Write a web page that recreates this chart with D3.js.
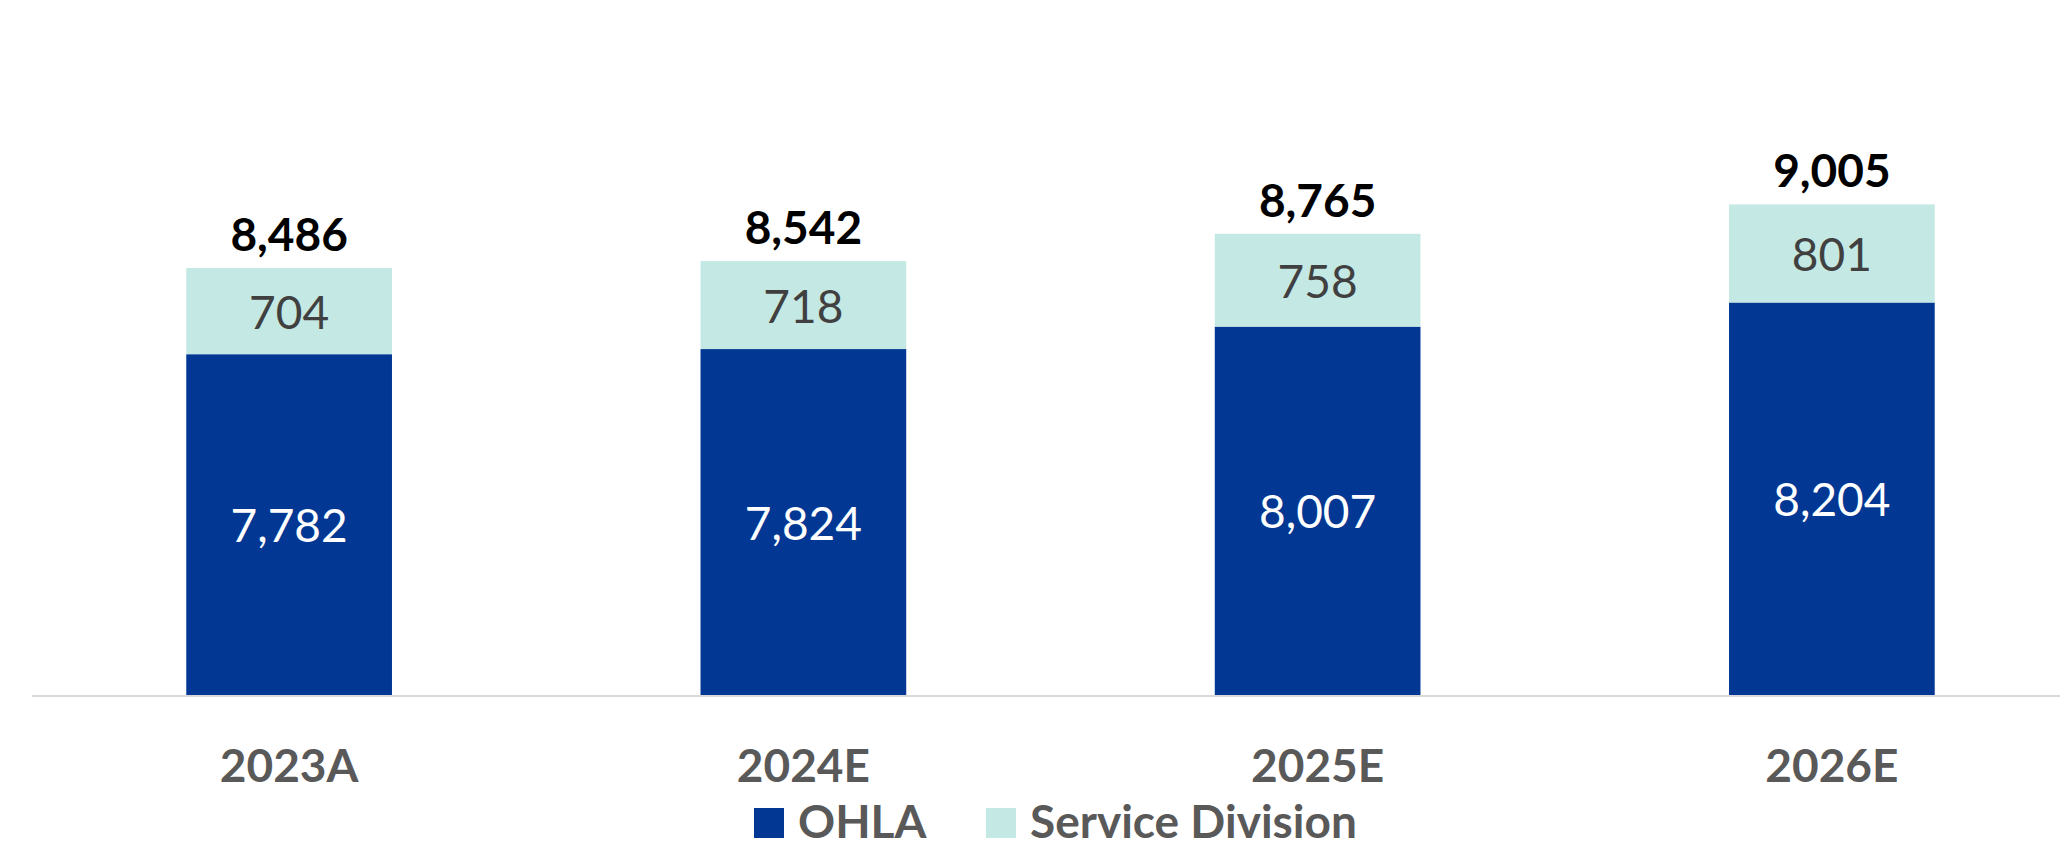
<!DOCTYPE html>
<html>
<head>
<meta charset="utf-8">
<script src="https://cdn.jsdelivr.net/npm/d3@7"></script>
<style>
html,body{margin:0;padding:0;background:#fff;}
svg{display:block;}
text{font-family:"Lato","Open Sans",sans-serif;}
</style>
</head>
<body>
<svg id="chart" width="2060" height="842"></svg>
<script>
const categories = ["2023A", "2024E", "2025E", "2026E"];
const seriesNames = ["OHLA", "Service Division"];
const ohla = [7782, 7824, 8007, 8204];
const service = [704, 718, 758, 801];
const totals = [8486, 8542, 8765, 9005];
const yDomain = [5000, 10000];

const colors = {"OHLA": "#023894", "Service Division": "#C4E8E3"};
const labelColors = {"OHLA": "#ffffff", "Service Division": "#404040"};

const W = 2060, H = 842;
const svg = d3.select("#chart");

const data = categories.map((c, i) => ({cat: c, "OHLA": ohla[i], "Service Division": service[i], total: totals[i]}));

const x = d3.scaleBand().domain(categories).range([32, 2089]).paddingInner(0.6).paddingOuter(0.3);
const y = d3.scaleLinear().domain(yDomain).range([695, 82.5]);

const stack = d3.stack().keys(seriesNames).offset((series, order) => {
  // Start stacking from the axis minimum (bars are drawn from the baseline value)
  for (let j = 0; j < series[order[0]].length; j++) {
    let base = yDomain[0];
    for (const k of order) {
      const s = series[k][j];
      const v = s[1] - s[0];
      s[0] = base; s[1] = base + v;
      base = s[1];
    }
  }
});
// first series sits on the axis baseline; its value reaches ohla
const stacked = d3.stack().keys(seriesNames)(data);

const fmt = d3.format(",");

seriesNames.forEach((key, si) => {
  const layer = stacked[si];
  const g = svg.append("g");
  g.selectAll("rect").data(layer).enter().append("rect")
    .attr("x", d => x(d.data.cat))
    .attr("width", x.bandwidth())
    .attr("y", d => y(d[1]))
    .attr("height", d => y(Math.max(d[0], yDomain[0])) - y(d[1]))
    .attr("fill", colors[key]);
  g.selectAll("text").data(layer).enter().append("text")
    .attr("x", d => x(d.data.cat) + x.bandwidth() / 2)
    .attr("y", d => (y(Math.max(d[0], yDomain[0])) + y(d[1])) / 2)
    .attr("text-anchor", "middle")
    .attr("dominant-baseline", "central")
    .attr("font-size", 46)
    .attr("fill", labelColors[key])
    .text(d => fmt(d.data[key]));
});

// totals
svg.append("g").selectAll("text").data(data).enter().append("text")
  .attr("x", d => x(d.cat) + x.bandwidth() / 2)
  .attr("y", d => y(d.total) - 17)
  .attr("text-anchor", "middle")
  .attr("font-size", 46)
  .attr("font-weight", "bold")
  .attr("fill", "#000")
  .text(d => fmt(d.total));

// x axis
const xAxis = d3.axisBottom(x).tickSize(0).tickPadding(0);
const ax = svg.append("g").attr("transform", "translate(0,695)").call(xAxis);
ax.select(".domain").remove();
ax.selectAll("text")
  .attr("y", 87)
  .attr("dy", 0)
  .attr("font-size", 46)
  .attr("font-weight", "bold")
  .attr("fill", "#595959")
  .style("font-family", "Lato, 'Open Sans', sans-serif");
svg.append("line")
  .attr("x1", 32).attr("x2", W)
  .attr("y1", 696).attr("y2", 696)
  .attr("stroke", "#d9d9d9").attr("stroke-width", 2);

// legend
const legendItems = [
  {name: "OHLA", x: 754},
  {name: "Service Division", x: 986}
];
const lg = svg.append("g");
legendItems.forEach(it => {
  lg.append("rect").attr("x", it.x).attr("y", 808).attr("width", 30).attr("height", 30)
    .attr("fill", colors[it.name]);
  lg.append("text").attr("x", it.x + 44).attr("y", 838)
    .attr("font-size", 46).attr("font-weight", "bold").attr("fill", "#595959")
    .text(it.name);
});
</script>
</body>
</html>
